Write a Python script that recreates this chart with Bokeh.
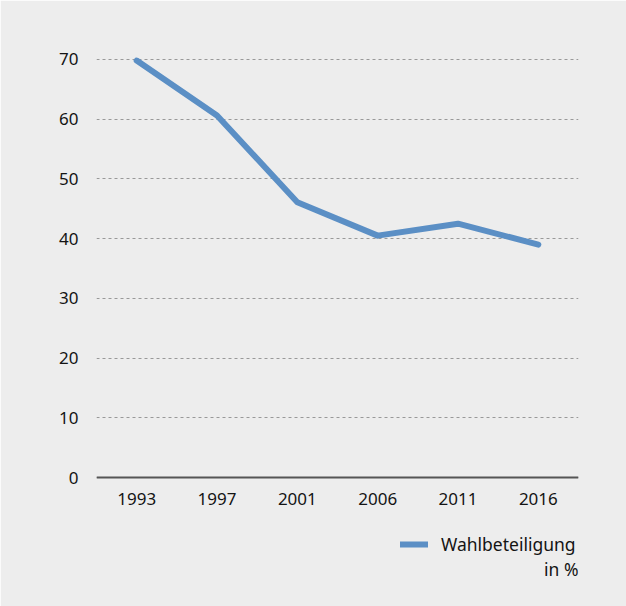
from bokeh.plotting import figure
from bokeh.models import Range1d, FactorRange, Legend, LegendItem, Label
from bokeh.embed import file_html
from bokeh.resources import INLINE

years = ["1993", "1997", "2001", "2006", "2011", "2016"]
turnout = [69.8, 60.6, 46.1, 40.5, 42.5, 39.0]
series_name = "Wahlbeteiligung"
series_unit = "in %"
y_ticks = [0, 10, 20, 30, 40, 50, 60, 70]

BG = "#ededed"
FONT = "Noto Sans"
TXT = "#141414"

p = figure(width=626, height=606, x_range=FactorRange(*years), y_range=Range1d(-19.9, 74),
           output_backend="svg", toolbar_location=None,
           min_border_left=96, min_border_right=48, min_border_top=35, min_border_bottom=10)
p.background_fill_color = BG
p.border_fill_color = BG
p.outline_line_color = BG
p.outline_line_width = 2

r = p.line(years, turnout, line_color="#5b8fc5", line_width=6, line_cap="round", line_join="round")

p.yaxis.ticker = y_ticks
p.yaxis.axis_line_color = None
p.yaxis.major_tick_line_color = None
p.yaxis.major_tick_out = 0
p.yaxis.minor_tick_line_color = None
p.yaxis.major_label_standoff = 18
p.yaxis.major_label_text_font = FONT
p.yaxis.major_label_text_font_size = "17px"
p.yaxis.major_label_text_color = TXT

xa = p.xaxis[0]
xa.fixed_location = 0
xa.axis_line_color = "#555555"
xa.axis_line_width = 2
xa.major_tick_line_color = None
xa.major_tick_out = 0
xa.major_tick_in = 0
xa.minor_tick_line_color = None
xa.major_label_standoff = 15
xa.major_label_text_font = FONT
xa.major_label_text_font_size = "17px"
xa.major_label_text_color = TXT

p.xgrid.grid_line_color = None
p.ygrid.grid_line_color = "#999999"
p.ygrid.grid_line_dash = "3 3"
p.ygrid.grid_line_width = 1

legend = Legend(items=[LegendItem(label=series_name, renderers=[r])], location=(304, 40),
                background_fill_alpha=0, border_line_color=None, padding=0, margin=0,
                glyph_width=28, glyph_height=20, label_standoff=13, label_text_font=FONT,
                label_text_font_size="17.5px", label_text_color=TXT)
p.add_layout(legend, "center")

unit_label = Label(x=6, y=-15.3, text=series_unit, text_align="right", text_baseline="middle",
                   text_font=FONT, text_font_size="17.5px", text_color=TXT)
p.add_layout(unit_label)

open("out.html", "w").write(file_html(p, INLINE))
